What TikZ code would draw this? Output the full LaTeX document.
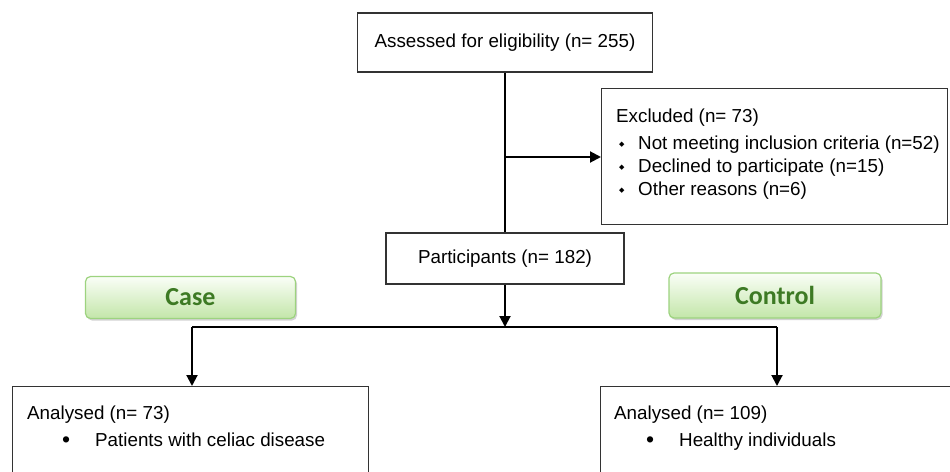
\documentclass[tikz,border=0pt]{standalone}
\usepackage{fontspec}
\setmainfont{Liberation Sans}
\newfontfamily\grpfont{Carlito}
\newfontfamily\symfont{DejaVu Sans}
\usetikzlibrary{shadows,arrows.meta}

\definecolor{grpline}{HTML}{9DD37F}
\definecolor{grptop}{HTML}{FAFEF7}
\definecolor{grpbot}{HTML}{C3E6A9}
\definecolor{grptext}{HTML}{3D7A24}

\newcommand{\dia}{\makebox[19pt][l]{\raisebox{3pt}{\symfont\fontsize{7}{7}\selectfont ◆}}}
\newcommand{\dotitem}{\hspace*{35pt}\makebox[33pt][l]{\raisebox{-1pt}{\fontsize{23}{23}\selectfont\textbullet}}}

\begin{document}
\begin{tikzpicture}[x=1pt,y=-1pt,
  box/.style={draw=black!80, line width=1.4pt, inner sep=0pt},
  grp/.style={draw=grpline, line width=1.2pt, rounded corners=5pt,
    top color=grptop, bottom color=grpbot, text=grptext,
    font=\grpfont\bfseries\fontsize{26}{26}\selectfont,
    drop shadow={shadow xshift=1.5pt, shadow yshift=-2pt, fill=black!35}},
  flow/.style={line width=2pt, -{Triangle[length=11pt,width=11pt]}},
  every node/.style={font=\fontsize{18.8}{23}\selectfont}]
\useasboundingbox (0,0) rectangle (950,471);
\clip (0,0) rectangle (950,471);

% boxes
\node[box, minimum width=295, minimum height=59] (assess) at (505,42.5)
  {Assessed for eligibility (n= 255)};
\node[box, anchor=north west, minimum width=346, minimum height=136] (excl) at (601,88) {};
% base = last line
\node[anchor=base west, align=left, inner sep=0pt] (excl-txt) at (616,195)
  {Excluded (n= 73)\\[4pt]
   \hspace*{3pt}\dia Not meeting inclusion criteria (n=52)\\
   \hspace*{3pt}\dia Declined to participate (n=15)\\
   \hspace*{3pt}\dia Other reasons (n=6)};
\node[box, minimum width=238, minimum height=51] (part) at (505,258.5)
  {Participants (n= 182)};

\node[grp, minimum width=210, minimum height=42] (case) at (190.5,297.5) {Case};
\node[grp, minimum width=212, minimum height=45] (control) at (775,295.5) {Control};

\node[box, anchor=north west, minimum width=356, minimum height=120] (case-box) at (12,386) {};
\node[anchor=base west, align=left, inner sep=0pt,
  font=\fontsize{18.8}{27}\selectfont] (case-txt) at (27,446)
  {Analysed (n= 73)\\ \dotitem Patients with celiac disease};
\node[box, anchor=north west, minimum width=370, minimum height=120] (ctrl-box) at (600,386) {};
\node[anchor=base west, align=left, inner sep=0pt,
  font=\fontsize{18.8}{27}\selectfont] (ctrl-txt) at (614,446)
  {Analysed (n= 109)\\ \hspace*{-3pt}\dotitem Healthy individuals};

% connectors
\coordinate (split) at (505,157);
\coordinate (fork) at (505,327);
\coordinate (fork-l) at (192,327);
\coordinate (fork-r) at (777,327);
\draw[line width=2pt] (assess.south) -- (part.north);
\draw[flow] (split) -- (excl.west |- split);
\draw[flow] (part.south) -- (fork);
\draw[line width=2pt] (fork-l) -- (fork-r);
\draw[flow] (fork-l) -- (fork-l |- case-box.north);
\draw[flow] (fork-r) -- (fork-r |- ctrl-box.north);
\end{tikzpicture}
\end{document}
